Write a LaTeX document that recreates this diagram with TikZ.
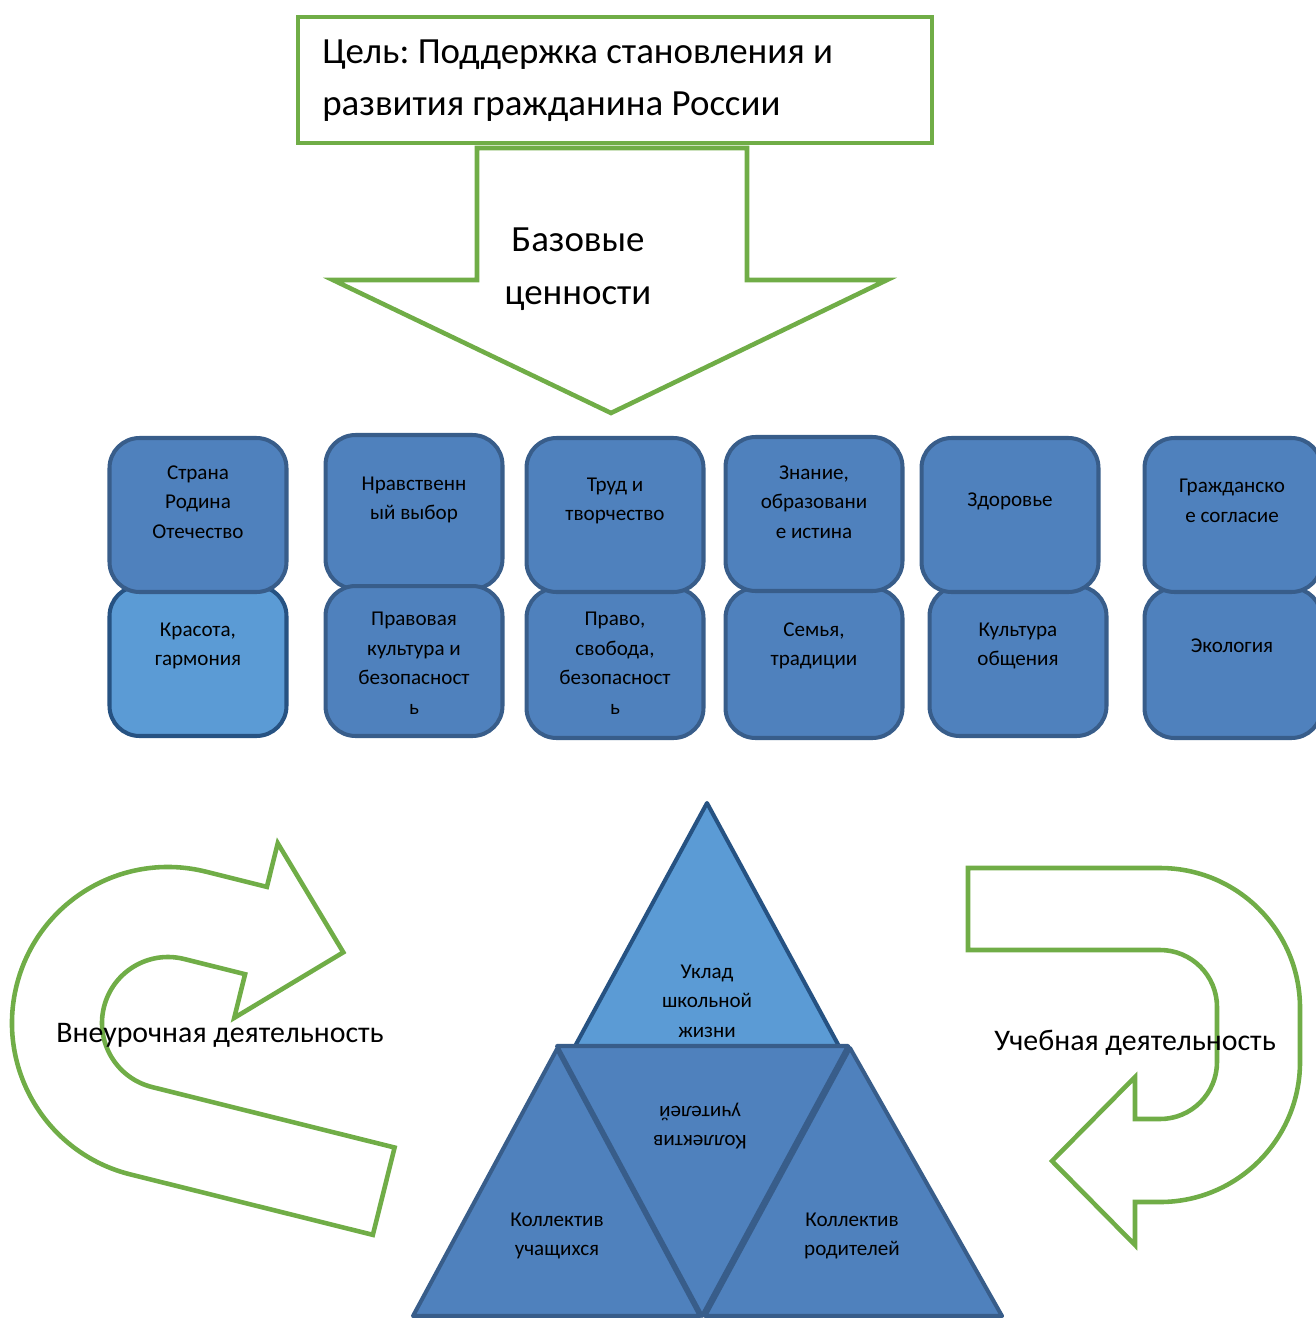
\documentclass[tikz,border=0pt]{standalone}
\usepackage{fontspec}
\setmainfont{Carlito}
\usepackage{tikz}
\frenchspacing

\definecolor{ringgreen}{HTML}{70AD47}
\definecolor{valfill}{HTML}{4F81BD}
\definecolor{valline}{HTML}{385D8A}
\definecolor{lightfill}{HTML}{5B9BD5}
\definecolor{darkline}{HTML}{265282}

\begin{document}
\begin{tikzpicture}[x=0.02cm,y=-0.02cm,
  greenline/.style={draw=ringgreen,line width=2.6pt,line join=miter},
  valbox/.style={draw=valline,fill=valfill,line width=2.3pt,rounded corners=0.6cm,
    minimum width=3.54cm,inner sep=0pt},
  topval/.style={valbox,minimum height=3.08cm},
  lowval/.style={valbox,minimum height=3.0cm},
  valtext/.style={align=center,inner sep=0pt,font=\fontsize{12}{16.8}\selectfont},
  piece/.style={draw=valline,fill=valfill,line width=2.3pt,line join=round},
  label/.style={inner sep=0pt,font=\fontsize{17}{20}\selectfont}]
\useasboundingbox (0,0) rectangle (1315,1318);

% goal and arrow down
\node[greenline,minimum width=12.68cm,minimum height=2.52cm,inner sep=0pt] (goal) at (615,80) {};
\node[anchor=west,align=left,inner sep=0pt,font=\fontsize{21}{29.6}\selectfont] (goaltext)
  at (322,81) {Цель: Поддержка становления и\\развития гражданина России};
\draw[greenline] (477,148) -- (477,280) -- (333,280) -- (611,413) -- (887,280)
  -- (747,280) -- (747,148) -- cycle;
\node[align=center,inner sep=0pt,font=\fontsize{21}{30}\selectfont] (base) at (578,269)
  {Базовые\\ценности};

% values
\node[lowval,fill=lightfill,draw=darkline] (v1b) at (198,661) {};
\node[topval] (v1a) at (198,515) {};
\node[topval] (v2a) at (414,512) {};
\node[lowval] (v2b) at (414,661) {};
\node[lowval] (v3b) at (615,663) {};
\node[topval] (v3a) at (615,515) {};
\node[lowval] (v4b) at (814,663) {};
\node[topval] (v4a) at (814,514) {};
\node[lowval] (v5b) at (1018,661) {};
\node[topval] (v5a) at (1010,515) {};
\node[lowval] (v6b) at (1233,663) {};
\node[topval] (v6a) at (1233,515) {};

\node[valtext] (t1a) at (198,502) {Страна\\Родина\\Отечество};
\node[valtext] (t1b) at (198,646) {Красота,\\гармония};
\node[valtext] (t2a) at (414,500) {Нравственн\\ый выбор};
\node[valtext] (t2b) at (414,663) {Правовая\\культура и\\безопасност\\ь};
\node[valtext] (t3a) at (615,501) {Труд и\\творчество};
\node[valtext] (t3b) at (615,663) {Право,\\свобода,\\безопасност\\ь};
\node[valtext] (t4a) at (814,502) {Знание,\\образовани\\е истина};
\node[valtext] (t4b) at (814,646) {Семья,\\традиции};
\node[valtext] (t5a) at (1010,501) {Здоровье};
\node[valtext] (t5b) at (1018,646) {Культура\\общения};
\node[valtext] (t6a) at (1232,501) {Гражданско\\е согласие};
\node[valtext] (t6b) at (1232,646) {Экология};

% pyramid
\draw[piece,fill=lightfill,draw=darkline] (707,803) -- (840,1048) -- (574,1048) -- cycle;
\draw[piece] (557,1046) -- (848,1046) -- (702,1316) -- cycle;
\draw[piece] (557,1049) -- (700,1316) -- (413,1316) -- cycle;
\draw[piece] (850,1048) -- (1002,1316) -- (705,1316) -- cycle;
\node[valtext] (life) at (707,1001) {Уклад\\школьной\\жизни};
\node[valtext,rotate=180] (teach) at (700,1126) {Коллектив\\учителей};
\node[valtext] (pupil) at (557,1236) {Коллектив\\учащихся};
\node[valtext] (parent) at (852,1236) {Коллектив\\родителей};

% turning arrows
\begin{scope}[shift={(168,1023)},rotate=-14]
\draw[greenline] (250,156) -- (0,156) arc[start angle=90,end angle=270,radius=156]
  -- (63,-156) -- (63,-201) -- (153,-111) -- (63,-21) -- (63,-66) -- (0,-66)
  arc[start angle=270,end angle=90,radius=66] -- (250,66) -- cycle;
\end{scope}
\draw[greenline] (968,868) -- (1160,868) arc[start angle=270,end angle=360,radius=140]
  -- (1300,1062) arc[start angle=0,end angle=90,radius=140] -- (1135,1202)
  -- (1135,1245) -- (1052,1161) -- (1135,1077) -- (1135,1119) -- (1160,1119)
  arc[start angle=90,end angle=0,radius=57] -- (1217,1007)
  arc[start angle=0,end angle=-90,radius=57] -- (968,950) -- cycle;
\node[label] (extra) at (220,1035) {Внеурочная деятельность};
\node[label] (study) at (1135,1043) {Учебная деятельность};
\end{tikzpicture}
\end{document}
